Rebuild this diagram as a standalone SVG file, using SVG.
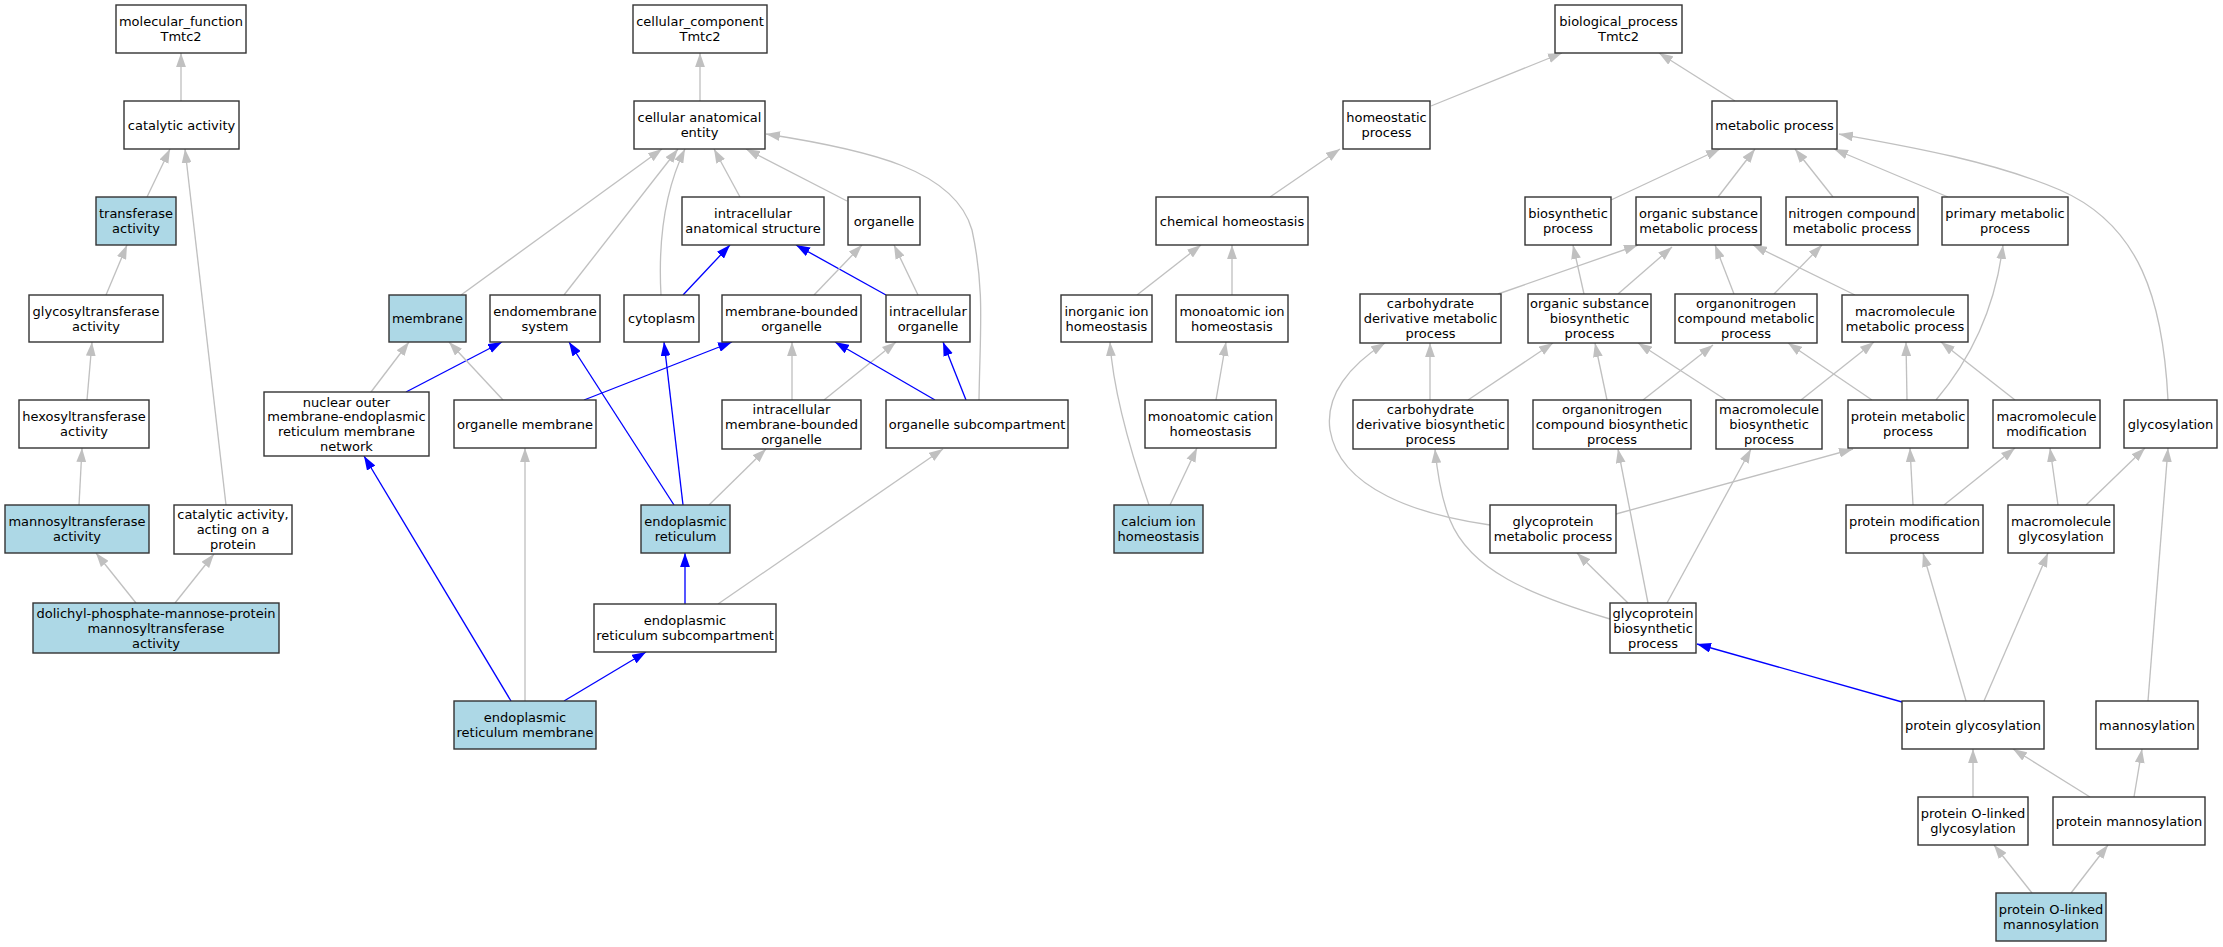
<svg xmlns="http://www.w3.org/2000/svg" width="2223" height="947" viewBox="0 0 2223 947">
<style>
.node rect{fill:#ffffff;stroke:#333333;stroke-width:1.4}
.node.hl rect{fill:#add8e6}
text{font-family:"DejaVu Sans","Noto Sans",sans-serif;font-size:13px;fill:#000000;text-anchor:middle}
.e{fill:none;stroke:#c0c0c0;stroke-width:1.33;marker-end:url(#ag)}
.e.b{stroke:#0000ff;marker-end:url(#ab)}
</style>
<defs>
<marker id="ag" markerUnits="userSpaceOnUse" markerWidth="14" markerHeight="10" refX="13.3" refY="4.67" orient="auto" viewBox="0 0 13.3 9.33"><path d="M0,0 L13.3,4.67 L0,9.33 z" fill="#c0c0c0"/></marker>
<marker id="ab" markerUnits="userSpaceOnUse" markerWidth="14" markerHeight="10" refX="13.3" refY="4.67" orient="auto" viewBox="0 0 13.3 9.33"><path d="M0,0 L13.3,4.67 L0,9.33 z" fill="#0000ff"/></marker>
</defs>
<rect x="0" y="0" width="2223" height="947" fill="#ffffff"/>
<g id="edges">
<path class="e" d="M181,101 L181,53"/>
<path class="e" d="M147,197 L170,149"/>
<path class="e" d="M226,505 L185,149"/>
<path class="e" d="M106,295 L127,245"/>
<path class="e" d="M87,400 L92,342"/>
<path class="e" d="M79,505 L82,448"/>
<path class="e" d="M136,603 L96,553"/>
<path class="e" d="M175,603 L214,554"/>
<path class="e" d="M700,101 L700,53"/>
<path class="e" d="M461,295 L662,149"/>
<path class="e" d="M564,295 L678,149"/>
<path class="e" d="M661,295 C658,240 665,190 685,149"/>
<path class="e" d="M740,197 L714,149"/>
<path class="e" d="M847,201 L746,149"/>
<path class="e" d="M979,400 C980,330 985,290 972,230 C955,170 870,150 766,134"/>
<path class="e b" d="M683,295 L730,245"/>
<path class="e b" d="M886,295 L796,245"/>
<path class="e" d="M814,295 L862,245"/>
<path class="e" d="M918,295 L894,245"/>
<path class="e" d="M371,392 L409,342"/>
<path class="e b" d="M406,392 L502,342"/>
<path class="e" d="M503,400 L449,342"/>
<path class="e b" d="M584,400 L732,342"/>
<path class="e" d="M792,400 L792,342"/>
<path class="e" d="M824,400 L896,342"/>
<path class="e b" d="M935,400 L835,342"/>
<path class="e b" d="M966,400 L943,342"/>
<path class="e b" d="M674,505 L569,342"/>
<path class="e b" d="M683,505 L664,342"/>
<path class="e" d="M709,505 L766,449"/>
<path class="e b" d="M685,604 L685,553"/>
<path class="e" d="M718,604 L943,449"/>
<path class="e b" d="M564,701 L646,652"/>
<path class="e" d="M525,701 L525,448"/>
<path class="e b" d="M511,701 L364,456"/>
<path class="e" d="M1431,106 L1562,53"/>
<path class="e" d="M1735,101 L1659,53"/>
<path class="e" d="M1270,197 L1340,149"/>
<path class="e" d="M1137,295 L1201,245"/>
<path class="e" d="M1232,295 L1232,245"/>
<path class="e" d="M1216,400 L1226,342"/>
<path class="e" d="M1149,505 C1130,450 1113,390 1110,342"/>
<path class="e" d="M1170,505 L1197,448"/>
<path class="e" d="M1611,200 L1720,149"/>
<path class="e" d="M1718,197 L1755,149"/>
<path class="e" d="M1833,197 L1795,149"/>
<path class="e" d="M1948,197 L1834,149"/>
<path class="e" d="M2168,400 C2163,300 2140,225 2060,190 C1990,160 1900,145 1839,134"/>
<path class="e" d="M1498,294 L1638,245"/>
<path class="e" d="M1584,294 L1573,245"/>
<path class="e" d="M1618,294 L1672,247"/>
<path class="e" d="M1734,294 L1715,245"/>
<path class="e" d="M1855,295 L1753,245"/>
<path class="e" d="M1774,294 L1822,245"/>
<path class="e" d="M1430,400 L1430,343"/>
<path class="e" d="M1468,400 L1553,343"/>
<path class="e" d="M1607,400 L1595,343"/>
<path class="e" d="M1643,400 L1713,345"/>
<path class="e" d="M1726,400 L1638,343"/>
<path class="e" d="M1801,400 L1874,342"/>
<path class="e" d="M1872,400 L1788,343"/>
<path class="e" d="M1907,400 L1906,342"/>
<path class="e" d="M1936,400 C1970,360 1995,310 2003,245"/>
<path class="e" d="M2015,400 L1941,342"/>
<path class="e" d="M1490,525 C1420,515 1340,490 1330,430 C1325,395 1350,365 1385,343"/>
<path class="e" d="M1616,514 L1853,449"/>
<path class="e" d="M1610,619 C1530,595 1470,570 1450,520 C1440,495 1437,470 1435,449"/>
<path class="e" d="M1648,603 L1618,449"/>
<path class="e" d="M1628,603 L1577,553"/>
<path class="e" d="M1667,603 L1751,449"/>
<path class="e" d="M1913,505 L1910,448"/>
<path class="e" d="M1944,505 L2015,448"/>
<path class="e" d="M2058,505 L2050,448"/>
<path class="e" d="M2086,505 L2145,448"/>
<path class="e" d="M2148,701 L2168,448"/>
<path class="e" d="M1966,701 L1923,553"/>
<path class="e" d="M1984,701 L2048,553"/>
<path class="e b" d="M1902,702 L1697,644"/>
<path class="e" d="M1973,797 L1973,749"/>
<path class="e" d="M2090,797 L2013,749"/>
<path class="e" d="M2134,797 L2142,749"/>
<path class="e" d="M2032,893 L1994,845"/>
<path class="e" d="M2071,893 L2108,845"/>
</g>
<g id="n_mf" class="node"><rect x="116" y="5" width="130" height="48"/><text><tspan x="181" y="26">molecular_function</tspan><tspan x="181" y="41">Tmtc2</tspan></text></g>
<g id="n_catalytic" class="node"><rect x="124" y="101" width="115" height="48"/><text><tspan x="181.5" y="129.5">catalytic activity</tspan></text></g>
<g id="n_transferase" class="node hl"><rect x="96" y="197" width="80" height="48"/><text><tspan x="136" y="218">transferase</tspan><tspan x="136" y="233">activity</tspan></text></g>
<g id="n_glycosyltransferase" class="node"><rect x="29" y="295" width="134" height="47"/><text><tspan x="96" y="315.5">glycosyltransferase</tspan><tspan x="96" y="330.5">activity</tspan></text></g>
<g id="n_hexosyltransferase" class="node"><rect x="19" y="400" width="130" height="48"/><text><tspan x="84" y="421">hexosyltransferase</tspan><tspan x="84" y="436">activity</tspan></text></g>
<g id="n_mannosyltransferase" class="node hl"><rect x="5" y="505" width="144" height="48"/><text><tspan x="77" y="526">mannosyltransferase</tspan><tspan x="77" y="541">activity</tspan></text></g>
<g id="n_cat_protein" class="node"><rect x="174" y="505" width="118" height="49"/><text><tspan x="233" y="519">catalytic activity,</tspan><tspan x="233" y="534">acting on a</tspan><tspan x="233" y="549">protein</tspan></text></g>
<g id="n_dolichyl" class="node hl"><rect x="33" y="603" width="246" height="50"/><text><tspan x="156" y="617.5">dolichyl-phosphate-mannose-protein</tspan><tspan x="156" y="632.5">mannosyltransferase</tspan><tspan x="156" y="647.5">activity</tspan></text></g>
<g id="n_cc" class="node"><rect x="633" y="5" width="134" height="48"/><text><tspan x="700" y="26">cellular_component</tspan><tspan x="700" y="41">Tmtc2</tspan></text></g>
<g id="n_cae" class="node"><rect x="634" y="101" width="131" height="48"/><text><tspan x="699.5" y="122">cellular anatomical</tspan><tspan x="699.5" y="137">entity</tspan></text></g>
<g id="n_ias" class="node"><rect x="682" y="197" width="142" height="48"/><text><tspan x="753" y="218">intracellular</tspan><tspan x="753" y="233">anatomical structure</tspan></text></g>
<g id="n_organelle" class="node"><rect x="848" y="197" width="72" height="48"/><text><tspan x="884" y="225.5">organelle</tspan></text></g>
<g id="n_membrane" class="node hl"><rect x="389" y="295" width="77" height="47"/><text><tspan x="427.5" y="323">membrane</tspan></text></g>
<g id="n_endomembrane" class="node"><rect x="490" y="295" width="110" height="47"/><text><tspan x="545" y="315.5">endomembrane</tspan><tspan x="545" y="330.5">system</tspan></text></g>
<g id="n_cytoplasm" class="node"><rect x="624" y="295" width="75" height="47"/><text><tspan x="661.5" y="323">cytoplasm</tspan></text></g>
<g id="n_mbo" class="node"><rect x="722" y="295" width="139" height="47"/><text><tspan x="791.5" y="315.5">membrane-bounded</tspan><tspan x="791.5" y="330.5">organelle</tspan></text></g>
<g id="n_io" class="node"><rect x="886" y="295" width="84" height="47"/><text><tspan x="928" y="315.5">intracellular</tspan><tspan x="928" y="330.5">organelle</tspan></text></g>
<g id="n_nuclear" class="node"><rect x="264" y="392" width="165" height="64"/><text><tspan x="346.5" y="406.5">nuclear outer</tspan><tspan x="346.5" y="421">membrane-endoplasmic</tspan><tspan x="346.5" y="436">reticulum membrane</tspan><tspan x="346.5" y="450.5">network</tspan></text></g>
<g id="n_orgmembrane" class="node"><rect x="454" y="400" width="142" height="48"/><text><tspan x="525" y="428.5">organelle membrane</tspan></text></g>
<g id="n_imbo" class="node"><rect x="722" y="400" width="139" height="49"/><text><tspan x="791.5" y="414">intracellular</tspan><tspan x="791.5" y="429">membrane-bounded</tspan><tspan x="791.5" y="444">organelle</tspan></text></g>
<g id="n_os" class="node"><rect x="886" y="400" width="182" height="48"/><text><tspan x="977" y="428.5">organelle subcompartment</tspan></text></g>
<g id="n_er" class="node hl"><rect x="641" y="505" width="89" height="48"/><text><tspan x="685.5" y="526">endoplasmic</tspan><tspan x="685.5" y="541">reticulum</tspan></text></g>
<g id="n_ers" class="node"><rect x="594" y="604" width="182" height="48"/><text><tspan x="685" y="625">endoplasmic</tspan><tspan x="685" y="640">reticulum subcompartment</tspan></text></g>
<g id="n_erm" class="node hl"><rect x="454" y="701" width="142" height="48"/><text><tspan x="525" y="722">endoplasmic</tspan><tspan x="525" y="737">reticulum membrane</tspan></text></g>
<g id="n_bp" class="node"><rect x="1555" y="5" width="127" height="48"/><text><tspan x="1618.5" y="26">biological_process</tspan><tspan x="1618.5" y="41">Tmtc2</tspan></text></g>
<g id="n_homeostatic" class="node"><rect x="1343" y="101" width="87" height="48"/><text><tspan x="1386.5" y="122">homeostatic</tspan><tspan x="1386.5" y="137">process</tspan></text></g>
<g id="n_mp" class="node"><rect x="1712" y="101" width="125" height="48"/><text><tspan x="1774.5" y="129.5">metabolic process</tspan></text></g>
<g id="n_chem" class="node"><rect x="1156" y="197" width="152" height="48"/><text><tspan x="1232" y="225.5">chemical homeostasis</tspan></text></g>
<g id="n_biosynthetic" class="node"><rect x="1525" y="197" width="86" height="48"/><text><tspan x="1568" y="218">biosynthetic</tspan><tspan x="1568" y="233">process</tspan></text></g>
<g id="n_osmp" class="node"><rect x="1636" y="197" width="125" height="48"/><text><tspan x="1698.5" y="218">organic substance</tspan><tspan x="1698.5" y="233">metabolic process</tspan></text></g>
<g id="n_ncmp" class="node"><rect x="1786" y="197" width="132" height="48"/><text><tspan x="1852" y="218">nitrogen compound</tspan><tspan x="1852" y="233">metabolic process</tspan></text></g>
<g id="n_pmp" class="node"><rect x="1942" y="197" width="126" height="48"/><text><tspan x="2005" y="218">primary metabolic</tspan><tspan x="2005" y="233">process</tspan></text></g>
<g id="n_inorganic" class="node"><rect x="1061" y="295" width="91" height="47"/><text><tspan x="1106.5" y="315.5">inorganic ion</tspan><tspan x="1106.5" y="330.5">homeostasis</tspan></text></g>
<g id="n_monoion" class="node"><rect x="1176" y="295" width="112" height="47"/><text><tspan x="1232" y="315.5">monoatomic ion</tspan><tspan x="1232" y="330.5">homeostasis</tspan></text></g>
<g id="n_cdm" class="node"><rect x="1360" y="294" width="141" height="49"/><text><tspan x="1430.5" y="308">carbohydrate</tspan><tspan x="1430.5" y="323">derivative metabolic</tspan><tspan x="1430.5" y="338">process</tspan></text></g>
<g id="n_osbp" class="node"><rect x="1528" y="294" width="123" height="49"/><text><tspan x="1589.5" y="308">organic substance</tspan><tspan x="1589.5" y="323">biosynthetic</tspan><tspan x="1589.5" y="338">process</tspan></text></g>
<g id="n_oncmp" class="node"><rect x="1675" y="294" width="142" height="49"/><text><tspan x="1746" y="308">organonitrogen</tspan><tspan x="1746" y="323">compound metabolic</tspan><tspan x="1746" y="338">process</tspan></text></g>
<g id="n_mmp" class="node"><rect x="1842" y="295" width="126" height="47"/><text><tspan x="1905" y="315.5">macromolecule</tspan><tspan x="1905" y="330.5">metabolic process</tspan></text></g>
<g id="n_cation" class="node"><rect x="1145" y="400" width="131" height="48"/><text><tspan x="1210.5" y="421">monoatomic cation</tspan><tspan x="1210.5" y="436">homeostasis</tspan></text></g>
<g id="n_cdb" class="node"><rect x="1353" y="400" width="155" height="49"/><text><tspan x="1430.5" y="414">carbohydrate</tspan><tspan x="1430.5" y="429">derivative biosynthetic</tspan><tspan x="1430.5" y="444">process</tspan></text></g>
<g id="n_oncb" class="node"><rect x="1533" y="400" width="158" height="49"/><text><tspan x="1612" y="414">organonitrogen</tspan><tspan x="1612" y="429">compound biosynthetic</tspan><tspan x="1612" y="444">process</tspan></text></g>
<g id="n_mbp" class="node"><rect x="1716" y="400" width="106" height="49"/><text><tspan x="1769" y="414">macromolecule</tspan><tspan x="1769" y="429">biosynthetic</tspan><tspan x="1769" y="444">process</tspan></text></g>
<g id="n_pmetp" class="node"><rect x="1848" y="400" width="120" height="48"/><text><tspan x="1908" y="421">protein metabolic</tspan><tspan x="1908" y="436">process</tspan></text></g>
<g id="n_mm" class="node"><rect x="1993" y="400" width="107" height="48"/><text><tspan x="2046.5" y="421">macromolecule</tspan><tspan x="2046.5" y="436">modification</tspan></text></g>
<g id="n_glycosylation" class="node"><rect x="2124" y="400" width="93" height="48"/><text><tspan x="2170.5" y="428.5">glycosylation</tspan></text></g>
<g id="n_calcium" class="node hl"><rect x="1114" y="505" width="89" height="48"/><text><tspan x="1158.5" y="526">calcium ion</tspan><tspan x="1158.5" y="541">homeostasis</tspan></text></g>
<g id="n_gmp" class="node"><rect x="1490" y="505" width="126" height="48"/><text><tspan x="1553" y="526">glycoprotein</tspan><tspan x="1553" y="541">metabolic process</tspan></text></g>
<g id="n_pmodp" class="node"><rect x="1846" y="505" width="137" height="48"/><text><tspan x="1914.5" y="526">protein modification</tspan><tspan x="1914.5" y="541">process</tspan></text></g>
<g id="n_mg" class="node"><rect x="2008" y="505" width="106" height="48"/><text><tspan x="2061" y="526">macromolecule</tspan><tspan x="2061" y="541">glycosylation</tspan></text></g>
<g id="n_gbp" class="node"><rect x="1610" y="603" width="86" height="50"/><text><tspan x="1653" y="617.5">glycoprotein</tspan><tspan x="1653" y="632.5">biosynthetic</tspan><tspan x="1653" y="647.5">process</tspan></text></g>
<g id="n_pg" class="node"><rect x="1902" y="701" width="142" height="48"/><text><tspan x="1973" y="729.5">protein glycosylation</tspan></text></g>
<g id="n_mannosylation" class="node"><rect x="2096" y="701" width="102" height="48"/><text><tspan x="2147" y="729.5">mannosylation</tspan></text></g>
<g id="n_polg" class="node"><rect x="1918" y="797" width="110" height="48"/><text><tspan x="1973" y="818">protein O-linked</tspan><tspan x="1973" y="833">glycosylation</tspan></text></g>
<g id="n_pm" class="node"><rect x="2053" y="797" width="152" height="48"/><text><tspan x="2129" y="825.5">protein mannosylation</tspan></text></g>
<g id="n_polm" class="node hl"><rect x="1996" y="893" width="110" height="48"/><text><tspan x="2051" y="914">protein O-linked</tspan><tspan x="2051" y="929">mannosylation</tspan></text></g>
</svg>
